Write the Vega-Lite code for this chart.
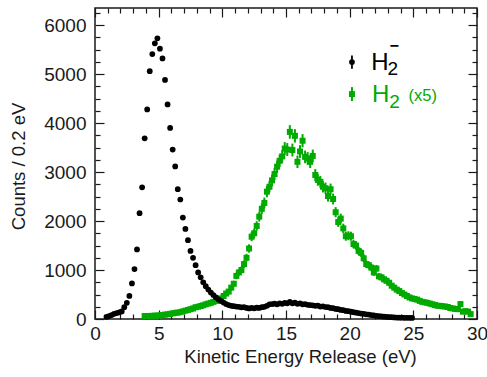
{
  "$schema": "https://vega.github.io/schema/vega-lite/v6.json",
  "width": 382,
  "height": 311,
  "autosize": {"type": "none"},
  "padding": {"left": 95, "top": 8, "right": 10, "bottom": 58},
  "background": "white",
  "config": {
    "view": {"stroke": "#1a1a1a", "strokeWidth": 1.5},
    "font": "Liberation Sans",
    "axis": {"domain": false, "grid": false, "labelFont": "Liberation Sans", "labelFontSize": 19, "labelColor": "#1a1a1a", "titleFont": "Liberation Sans", "titleFontSize": 18.5, "titleFontWeight": "normal", "titleColor": "#1a1a1a", "tickColor": "#1a1a1a", "tickWidth": 1.2, "labelOverlap": false, "labelFlush": false, "labelBound": false}
  },
  "datasets": {
    "one": [{}],
    "h2m": [
      {"x":0.9,"y":45},{"x":1.1,"y":60},{"x":1.3,"y":80},{"x":1.5,"y":105},{"x":1.7,"y":120},{"x":1.9,"y":135},{"x":2.1,"y":155},{"x":2.3,"y":240},{"x":2.5,"y":330},{"x":2.7,"y":470},{"x":2.9,"y":725},
      {"x":3.1,"y":1020},{"x":3.3,"y":1420},{"x":3.5,"y":2160},{"x":3.7,"y":2690},{"x":3.9,"y":3690},{"x":4.1,"y":4280},{"x":4.3,"y":5060},{"x":4.5,"y":5410},{"x":4.7,"y":5630},{"x":4.9,"y":5730},
      {"x":5.1,"y":5520},{"x":5.3,"y":5320},{"x":5.5,"y":4880},{"x":5.7,"y":4380},{"x":5.9,"y":3900},{"x":6.1,"y":3460},{"x":6.3,"y":3115},{"x":6.5,"y":2650},{"x":6.7,"y":2440},{"x":6.9,"y":2070},
      {"x":7.1,"y":1840},{"x":7.3,"y":1610},{"x":7.5,"y":1390},{"x":7.7,"y":1250},{"x":7.9,"y":1100},{"x":8.1,"y":950},{"x":8.3,"y":850},{"x":8.5,"y":750},{"x":8.7,"y":670},{"x":8.9,"y":600},
      {"x":9.1,"y":540},{"x":9.3,"y":490},{"x":9.5,"y":440},{"x":9.7,"y":400},{"x":9.9,"y":365},{"x":10.1,"y":335},{"x":10.3,"y":305},{"x":10.5,"y":285},{"x":10.7,"y":270},{"x":10.9,"y":262},
      {"x":11.1,"y":255},{"x":11.3,"y":250},{"x":11.5,"y":238},{"x":11.7,"y":242},{"x":11.9,"y":226},{"x":12.1,"y":215},{"x":12.3,"y":225},{"x":12.5,"y":218},{"x":12.7,"y":230},{"x":12.9,"y":225},
      {"x":13.1,"y":240},{"x":13.3,"y":250},{"x":13.5,"y":270},{"x":13.7,"y":300},{"x":13.9,"y":305},{"x":14.1,"y":312},{"x":14.3,"y":300},{"x":14.5,"y":320},{"x":14.7,"y":310},{"x":14.9,"y":330},
      {"x":15.1,"y":320},{"x":15.3,"y":350},{"x":15.5,"y":320},{"x":15.7,"y":332},{"x":15.9,"y":310},{"x":16.1,"y":320},{"x":16.3,"y":300},{"x":16.5,"y":305},{"x":16.7,"y":290},{"x":16.9,"y":285},
      {"x":17.1,"y":280},{"x":17.3,"y":270},{"x":17.5,"y":275},{"x":17.7,"y":255},{"x":17.9,"y":260},{"x":18.1,"y":245},{"x":18.3,"y":240},{"x":18.5,"y":225},{"x":18.7,"y":220},{"x":18.9,"y":205},
      {"x":19.1,"y":200},{"x":19.3,"y":185},{"x":19.5,"y":180},{"x":19.7,"y":165},{"x":19.9,"y":160},{"x":20.1,"y":150},{"x":20.3,"y":140},{"x":20.5,"y":130},{"x":20.7,"y":120},{"x":20.9,"y":110},
      {"x":21.1,"y":105},{"x":21.3,"y":95},{"x":21.5,"y":90},{"x":21.7,"y":80},{"x":21.9,"y":72},{"x":22.1,"y":66},{"x":22.3,"y":60},{"x":22.5,"y":55},{"x":22.7,"y":48},{"x":22.9,"y":45},
      {"x":23.1,"y":40},{"x":23.3,"y":36},{"x":23.5,"y":33},{"x":23.7,"y":30},{"x":23.9,"y":28},{"x":24.1,"y":26},{"x":24.3,"y":25},{"x":24.5,"y":24},{"x":24.7,"y":23},{"x":24.9,"y":22}
    ],
    "h2": [
      {"x":3.9,"y":60,"e":17},{"x":4.1,"y":62,"e":18},{"x":4.3,"y":60,"e":17},{"x":4.5,"y":65,"e":18},{"x":4.7,"y":68,"e":18},{"x":4.9,"y":70,"e":19},{"x":5.1,"y":72,"e":19},{"x":5.3,"y":80,"e":20},{"x":5.5,"y":90,"e":21},{"x":5.7,"y":95,"e":22},
      {"x":5.9,"y":105,"e":23},{"x":6.1,"y":115,"e":24},{"x":6.3,"y":125,"e":25},{"x":6.5,"y":130,"e":25},{"x":6.7,"y":140,"e":26},{"x":6.9,"y":155,"e":28},{"x":7.1,"y":170,"e":29},{"x":7.3,"y":185,"e":30},{"x":7.5,"y":200,"e":32},{"x":7.7,"y":215,"e":33},
      {"x":7.9,"y":240,"e":35},{"x":8.1,"y":250,"e":35},{"x":8.3,"y":265,"e":36},{"x":8.5,"y":280,"e":37},{"x":8.7,"y":300,"e":39},{"x":8.9,"y":315,"e":40},{"x":9.1,"y":330,"e":41},{"x":9.3,"y":350,"e":42},{"x":9.5,"y":370,"e":43},{"x":9.7,"y":380,"e":44},
      {"x":9.9,"y":420,"e":46},{"x":10.1,"y":470,"e":48},{"x":10.3,"y":520,"e":51},{"x":10.5,"y":560,"e":53},{"x":10.7,"y":640,"e":57},{"x":10.9,"y":720,"e":60},{"x":11.1,"y":880,"e":66},{"x":11.3,"y":950,"e":69},{"x":11.5,"y":1000,"e":71},{"x":11.7,"y":1120,"e":75},
      {"x":11.9,"y":1250,"e":79},{"x":12.1,"y":1440,"e":85},{"x":12.3,"y":1680,"e":92},{"x":12.5,"y":1750,"e":94},{"x":12.7,"y":1900,"e":97},{"x":12.9,"y":2090,"e":102},{"x":13.1,"y":2250,"e":106},{"x":13.3,"y":2370,"e":109},{"x":13.5,"y":2600,"e":114},{"x":13.7,"y":2700,"e":116},
      {"x":13.9,"y":2830,"e":119},{"x":14.1,"y":2960,"e":122},{"x":14.3,"y":3110,"e":125},{"x":14.5,"y":3230,"e":127},{"x":14.7,"y":3320,"e":129},{"x":14.9,"y":3480,"e":132},{"x":15.1,"y":3460,"e":132},{"x":15.3,"y":3820,"e":138},{"x":15.5,"y":3450,"e":131},{"x":15.7,"y":3740,"e":137},
      {"x":15.9,"y":3210,"e":127},{"x":16.1,"y":3420,"e":131},{"x":16.3,"y":3640,"e":135},{"x":16.5,"y":3310,"e":129},{"x":16.7,"y":3280,"e":128},{"x":16.9,"y":3210,"e":127},{"x":17.1,"y":3330,"e":129},{"x":17.3,"y":2940,"e":121},{"x":17.5,"y":2840,"e":119},{"x":17.7,"y":2800,"e":118},
      {"x":17.9,"y":2700,"e":116},{"x":18.1,"y":2670,"e":116},{"x":18.3,"y":2510,"e":112},{"x":18.5,"y":2650,"e":115},{"x":18.7,"y":2450,"e":111},{"x":18.9,"y":2180,"e":104},{"x":19.1,"y":1980,"e":99},{"x":19.3,"y":2050,"e":101},{"x":19.5,"y":1850,"e":96},{"x":19.7,"y":1690,"e":92},
      {"x":19.9,"y":1700,"e":92},{"x":20.1,"y":1690,"e":92},{"x":20.3,"y":1530,"e":87},{"x":20.5,"y":1500,"e":87},{"x":20.7,"y":1390,"e":83},{"x":20.9,"y":1350,"e":82},{"x":21.1,"y":1240,"e":79},{"x":21.3,"y":1120,"e":75},{"x":21.5,"y":1100,"e":74},{"x":21.7,"y":1050,"e":72},
      {"x":21.9,"y":950,"e":69},{"x":22.1,"y":1030,"e":72},{"x":22.3,"y":870,"e":66},{"x":22.5,"y":850,"e":65},{"x":22.7,"y":810,"e":64},{"x":22.9,"y":780,"e":62},{"x":23.1,"y":740,"e":61},{"x":23.3,"y":680,"e":58},{"x":23.5,"y":640,"e":57},{"x":23.7,"y":600,"e":55},
      {"x":23.9,"y":570,"e":53},{"x":24.1,"y":530,"e":51},{"x":24.3,"y":500,"e":50},{"x":24.5,"y":470,"e":48},{"x":24.7,"y":440,"e":47},{"x":24.9,"y":420,"e":46},{"x":25.1,"y":410,"e":45},{"x":25.3,"y":395,"e":44},{"x":25.5,"y":370,"e":43},{"x":25.7,"y":350,"e":42},
      {"x":25.9,"y":340,"e":41},{"x":26.1,"y":330,"e":41},{"x":26.3,"y":315,"e":40},{"x":26.5,"y":300,"e":39},{"x":26.7,"y":285,"e":38},{"x":26.9,"y":270,"e":37},{"x":27.1,"y":268,"e":37},{"x":27.3,"y":260,"e":36},{"x":27.5,"y":255,"e":36},{"x":27.7,"y":245,"e":35},
      {"x":27.9,"y":225,"e":34},{"x":28.1,"y":215,"e":33},{"x":28.3,"y":205,"e":32},{"x":28.5,"y":200,"e":32},{"x":28.7,"y":305,"e":39},{"x":28.9,"y":150,"e":27},{"x":29.1,"y":160,"e":28},{"x":29.3,"y":150,"e":27},{"x":29.5,"y":100,"e":22}
    ]
  },
  "resolve": {"axis": {"x": "independent", "y": "independent"}},
  "layer": [
    {
      "data": {"name": "h2"},
      "mark": {"type": "errorbar", "color": "#00aa00", "thickness": 2},
      "encoding": {
        "x": {"field": "x", "type": "quantitative", "scale": {"domain": [0, 30], "nice": false, "zero": false}, "axis": null},
        "y": {"field": "y", "type": "quantitative", "scale": {"domain": [0, 6350], "nice": false}, "axis": null},
        "yError": {"field": "e"}
      }
    },
    {
      "data": {"name": "h2"},
      "mark": {"type": "point", "shape": "square", "filled": true, "color": "#00aa00", "opacity": 1, "size": 36},
      "encoding": {
        "x": {"field": "x", "type": "quantitative", "scale": {"domain": [0, 30], "nice": false, "zero": false},
          "axis": {"orient": "bottom", "values": [0,1,2,3,4,5,6,7,8,9,10,11,12,13,14,15,16,17,18,19,20,21,22,23,24,25,26,27,28,29,30],
            "labelExpr": "datum.value % 5 === 0 ? datum.label : ''",
            "tickSize": {"condition": {"test": "datum.value % 5 === 0", "value": -9}, "value": -5},
            "labelPadding": 14,
            "title": "Kinetic Energy Release (eV)", "titleX": 205, "titleY": 43, "titleBaseline": "alphabetic", "titleAlign": "center", "titleAnchor": null}},
        "y": {"field": "y", "type": "quantitative", "scale": {"domain": [0, 6350], "nice": false},
          "axis": {"orient": "left", "values": [0,250,500,750,1000,1250,1500,1750,2000,2250,2500,2750,3000,3250,3500,3750,4000,4250,4500,4750,5000,5250,5500,5750,6000,6250],
            "format": "d",
            "labelExpr": "datum.value % 1000 === 0 ? datum.label : ''",
            "tickSize": {"condition": {"test": "datum.value % 1000 === 0", "value": -9}, "value": -5},
            "labelPadding": 18,
            "title": "Counts / 0.2 eV", "titleX": -71, "titleY": 158, "titleBaseline": "alphabetic", "titleAlign": "center", "titleAngle": -90}}
      }
    },
    {
      "data": {"name": "h2m"},
      "mark": {"type": "point", "shape": "circle", "filled": true, "color": "black", "opacity": 1, "size": 33},
      "encoding": {
        "x": {"field": "x", "type": "quantitative", "scale": {"domain": [0, 30], "nice": false, "zero": false},
          "axis": {"orient": "top", "values": [0,1,2,3,4,5,6,7,8,9,10,11,12,13,14,15,16,17,18,19,20,21,22,23,24,25,26,27,28,29,30],
            "labels": false, "title": null,
            "tickSize": {"condition": {"test": "datum.value % 5 === 0", "value": -9}, "value": -5}}},
        "y": {"field": "y", "type": "quantitative", "scale": {"domain": [0, 6350], "nice": false},
          "axis": {"orient": "right", "values": [0,250,500,750,1000,1250,1500,1750,2000,2250,2500,2750,3000,3250,3500,3750,4000,4250,4500,4750,5000,5250,5500,5750,6000,6250],
            "labels": false, "title": null,
            "tickSize": {"condition": {"test": "datum.value % 1000 === 0", "value": -9}, "value": -5}}}
      }
    },
    {
      "data": {"name": "one"},
      "mark": {"type": "rule", "color": "black", "strokeWidth": 1.8},
      "encoding": {"x": {"datum": 20.18, "type": "quantitative", "axis": null}, "y": {"datum": 5112, "type": "quantitative", "axis": null}, "y2": {"datum": 5378}}
    },
    {
      "data": {"name": "one"},
      "mark": {"type": "point", "shape": "circle", "filled": true, "color": "black", "opacity": 1, "size": 33},
      "encoding": {"x": {"datum": 20.18, "type": "quantitative", "axis": null}, "y": {"datum": 5245, "type": "quantitative", "axis": null}}
    },
    {
      "data": {"name": "one"},
      "mark": {"type": "rule", "color": "#00aa00", "strokeWidth": 2},
      "encoding": {"x": {"datum": 20.18, "type": "quantitative", "axis": null}, "y": {"datum": 4449, "type": "quantitative", "axis": null}, "y2": {"datum": 4735}}
    },
    {
      "data": {"name": "one"},
      "mark": {"type": "point", "shape": "square", "filled": true, "color": "#00aa00", "opacity": 1, "size": 36},
      "encoding": {"x": {"datum": 20.18, "type": "quantitative", "axis": null}, "y": {"datum": 4592, "type": "quantitative", "axis": null}}
    },
    {
      "data": {"name": "one"},
      "mark": {"type": "text", "text": "H", "font": "Liberation Sans", "fontSize": 24, "align": "left", "baseline": "alphabetic", "color": "black"},
      "encoding": {"x": {"datum": 21.7, "type": "quantitative", "axis": null}, "y": {"datum": 5082, "type": "quantitative", "axis": null}}
    },
    {
      "data": {"name": "one"},
      "mark": {"type": "text", "text": "2", "font": "Liberation Sans", "fontSize": 19, "align": "left", "baseline": "alphabetic", "color": "black"},
      "encoding": {"x": {"datum": 22.98, "type": "quantitative", "axis": null}, "y": {"datum": 4980, "type": "quantitative", "axis": null}}
    },
    {
      "data": {"name": "one"},
      "mark": {"type": "text", "text": "−", "font": "Liberation Sans", "fontSize": 16, "fontWeight": "bold", "align": "left", "baseline": "alphabetic", "color": "black"},
      "encoding": {"x": {"datum": 23.12, "type": "quantitative", "axis": null}, "y": {"datum": 5470, "type": "quantitative", "axis": null}}
    },
    {
      "data": {"name": "one"},
      "mark": {"type": "text", "text": "H", "font": "Liberation Sans", "fontSize": 24, "align": "left", "baseline": "alphabetic", "color": "#00aa00"},
      "encoding": {"x": {"datum": 21.75, "type": "quantitative", "axis": null}, "y": {"datum": 4435, "type": "quantitative", "axis": null}}
    },
    {
      "data": {"name": "one"},
      "mark": {"type": "text", "text": "2", "font": "Liberation Sans", "fontSize": 19, "align": "left", "baseline": "alphabetic", "color": "#00aa00"},
      "encoding": {"x": {"datum": 23.1, "type": "quantitative", "axis": null}, "y": {"datum": 4300, "type": "quantitative", "axis": null}}
    },
    {
      "data": {"name": "one"},
      "mark": {"type": "text", "text": "(x5)", "font": "Liberation Sans", "fontSize": 16.5, "align": "left", "baseline": "alphabetic", "color": "#00aa00"},
      "encoding": {"x": {"datum": 24.62, "type": "quantitative", "axis": null}, "y": {"datum": 4455, "type": "quantitative", "axis": null}}
    }
  ]
}
